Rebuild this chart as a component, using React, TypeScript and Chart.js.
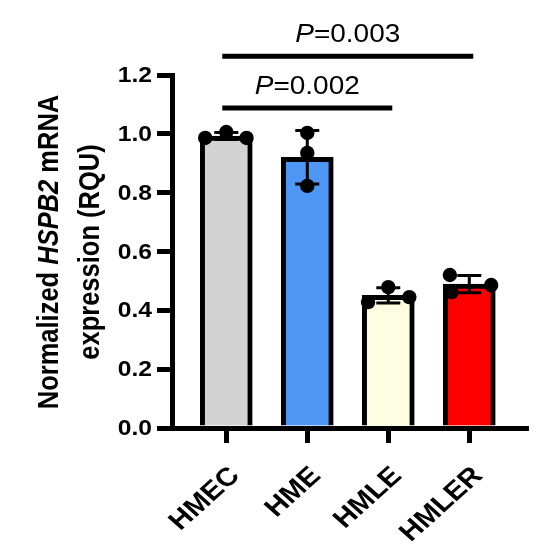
import React, { useEffect, useRef } from "react";
import { Chart, registerables } from "chart.js";

Chart.register(...registerables);

// ---- data ----
const groups = ["HMEC", "HME", "HMLE", "HMLER"];
const hmecValues = [0.986, 1.006, 0.986];
const hmeValues = [1.003, 0.935, 0.823];
const hmleValues = [0.428, 0.479, 0.445];
const hmlerValues = [0.52, 0.462, 0.486];
const replicates = [hmecValues, hmeValues, hmleValues, hmlerValues];
const barColors = ["#d3d3d3", "#4e97f5", "#fdfde2", "#fe0000"];
const yTicks = [0, 0.2, 0.4, 0.6, 0.8, 1.0, 1.2];
const comparisons = [
  { from: 0, to: 2, label: "0.002", level: 1.088 },
  { from: 0, to: 3, label: "0.003", level: 1.264 },
];
const yTitleLine1 = [
  { t: "Normalized ", italic: false },
  { t: "HSPB2", italic: true },
  { t: " mRNA", italic: false },
];
const yTitleLine2 = "expression (RQU)";

// horizontal scatter placement of replicate dots (category units)
const jitter = [
  [-0.26, 0, 0.25],
  [0, 0, 0],
  [-0.25, 0, 0.26],
  [-0.24, -0.22, 0.27],
];

const FONT = '"Liberation Sans", Arial, Helvetica, sans-serif';
const SX = 1.12;

const mean = (a: number[]) => a.reduce((s, v) => s + v, 0) / a.length;
const sd = (a: number[]) => {
  const m = mean(a);
  return Math.sqrt(a.reduce((s, v) => s + (v - m) * (v - m), 0) / (a.length - 1));
};

function drawParts(ctx: CanvasRenderingContext2D, parts: { t: string; italic: boolean }[], size: number, weight: string) {
  const fonts = parts.map((p) => `${p.italic ? "italic " : ""}${weight} ${size}px ${FONT}`);
  const widths = parts.map((p, i) => {
    ctx.font = fonts[i];
    return ctx.measureText(p.t).width;
  });
  const total = widths.reduce((s, w) => s + w, 0);
  let x = -total / 2;
  parts.forEach((p, i) => {
    ctx.font = fonts[i];
    ctx.textAlign = "left";
    ctx.fillText(p.t, x, 0);
    x += widths[i];
  });
}

const overlayPlugin = {
  id: "overlay",
  afterDatasetDraw(chart: any, args: any) {
    if (args.index !== 0) return;
    const ctx = chart.ctx as CanvasRenderingContext2D;
    const xs = chart.scales.x;
    const ys = chart.scales.y;
    ctx.save();
    ctx.strokeStyle = "#000";
    ctx.lineWidth = 3;
    replicates.forEach((vals, i) => {
      const m = mean(vals);
      const s = sd(vals);
      const cx = xs.getPixelForValue(i);
      const top = ys.getPixelForValue(m + s);
      const bot = ys.getPixelForValue(m - s);
      ctx.beginPath();
      ctx.moveTo(cx, top);
      ctx.lineTo(cx, bot);
      ctx.moveTo(cx - 12, top);
      ctx.lineTo(cx + 12, top);
      ctx.moveTo(cx - 12, bot);
      ctx.lineTo(cx + 12, bot);
      ctx.stroke();
    });
    ctx.restore();
  },
  afterDraw(chart: any) {
    const ctx = chart.ctx as CanvasRenderingContext2D;
    const xs = chart.scales.x;
    const ys = chart.scales.y;
    const area = chart.chartArea;
    ctx.save();
    ctx.fillStyle = "#000";
    ctx.strokeStyle = "#000";

    // y tick labels
    ys.ticks.forEach((t: any, i: number) => {
      const y = ys.getPixelForTick(i);
      ctx.save();
      ctx.translate(area.left - 20, y);
      ctx.scale(SX, 1);
      ctx.font = `bold 22px ${FONT}`;
      ctx.textAlign = "right";
      ctx.textBaseline = "middle";
      ctx.fillText(Number(t.value).toFixed(1), 0, 1);
      ctx.restore();
    });

    // x tick labels (rotated)
    groups.forEach((g, i) => {
      const x = xs.getPixelForValue(i);
      ctx.save();
      ctx.translate(x + 9, area.bottom + 44);
      ctx.scale(SX, 1);
      ctx.rotate(-Math.PI / 4);
      ctx.font = `bold 26px ${FONT}`;
      ctx.textAlign = "right";
      ctx.textBaseline = "middle";
      ctx.fillText(g, 0, 0);
      ctx.restore();
    });

    // y title
    const cy = (area.top + area.bottom) / 2 + 0.5;
    ctx.save();
    ctx.translate(42, cy);
    ctx.scale(SX, 1);
    ctx.rotate(-Math.PI / 2);
    ctx.textBaseline = "middle";
    drawParts(ctx, yTitleLine1, 25.5, "bold");
    ctx.restore();
    ctx.save();
    ctx.translate(83, cy);
    ctx.scale(SX, 1);
    ctx.rotate(-Math.PI / 2);
    ctx.textBaseline = "middle";
    drawParts(ctx, [{ t: yTitleLine2, italic: false }], 25.5, "bold");
    ctx.restore();

    // significance brackets
    comparisons.forEach((c) => {
      const x1 = xs.getPixelForValue(c.from) - 4;
      const x2 = xs.getPixelForValue(c.to) + 4;
      const y = ys.getPixelForValue(c.level);
      ctx.lineWidth = 5;
      ctx.beginPath();
      ctx.moveTo(x1, y);
      ctx.lineTo(x2, y);
      ctx.stroke();
      ctx.save();
      ctx.translate((x1 + x2) / 2, y - 14);
      ctx.scale(SX, 1);
      ctx.textBaseline = "alphabetic";
      drawParts(ctx, [
        { t: "P", italic: true },
        { t: "=" + c.label, italic: false },
      ], 25, "normal");
      ctx.restore();
    });

    ctx.restore();
  },
};

export default function App() {
  const ref = useRef<HTMLCanvasElement | null>(null);
  useEffect(() => {
    if (!ref.current) return;
    const barData = replicates.map((v, i) => ({ x: i, y: mean(v) }));
    const dotData: { x: number; y: number }[] = [];
    replicates.forEach((vals, i) => vals.forEach((v, j) => dotData.push({ x: i + jitter[i][j], y: v })));
    const chart = new Chart(ref.current, {
      type: "bar",
      data: {
        datasets: [
          {
            type: "bar",
            data: barData as any,
            backgroundColor: barColors,
            borderColor: "#000",
            borderWidth: 5,
            borderSkipped: "start",
            barThickness: 52,
            order: 2,
          } as any,
          {
            type: "scatter",
            data: dotData as any,
            pointRadius: 7.2,
            pointBackgroundColor: "#000",
            pointBorderWidth: 0,
            showLine: false,
            order: 0,
          } as any,
        ],
      },
      options: {
        responsive: false,
        animation: false,
        events: [],
        layout: { padding: { left: 0, right: 10, top: 67, bottom: 0 } },
        plugins: { legend: { display: false }, tooltip: { enabled: false }, title: { display: false } },
        scales: {
          x: {
            type: "linear",
            min: -0.67,
            max: 3.7,
            offset: false,
            z: 1,
            afterBuildTicks: (s: any) => {
              s.ticks = groups.map((_, i) => ({ value: i }));
            },
            afterFit: (s: any) => {
              s.height = 114;
            },
            ticks: { display: false },
            grid: { display: true, offset: false, drawOnChartArea: false, drawTicks: true, tickLength: 15, color: "#000", lineWidth: 5 },
            border: { display: true, color: "#000", width: 5 },
          },
          y: {
            type: "linear",
            min: 0,
            max: 1.2,
            z: 1,
            afterBuildTicks: (s: any) => {
              s.ticks = yTicks.map((v) => ({ value: v }));
            },
            afterFit: (s: any) => {
              s.width = 164;
            },
            ticks: { display: false },
            grid: { display: true, drawOnChartArea: false, drawTicks: true, tickLength: 15, color: "#000", lineWidth: 5 },
            border: { display: true, color: "#000", width: 5 },
          },
        },
      } as any,
      plugins: [overlayPlugin],
    });
    return () => chart.destroy();
  }, []);
  return (
    <div style={{ width: 528, height: 534 }}>
      <canvas ref={ref} width={528} height={534} />
    </div>
  );
}
